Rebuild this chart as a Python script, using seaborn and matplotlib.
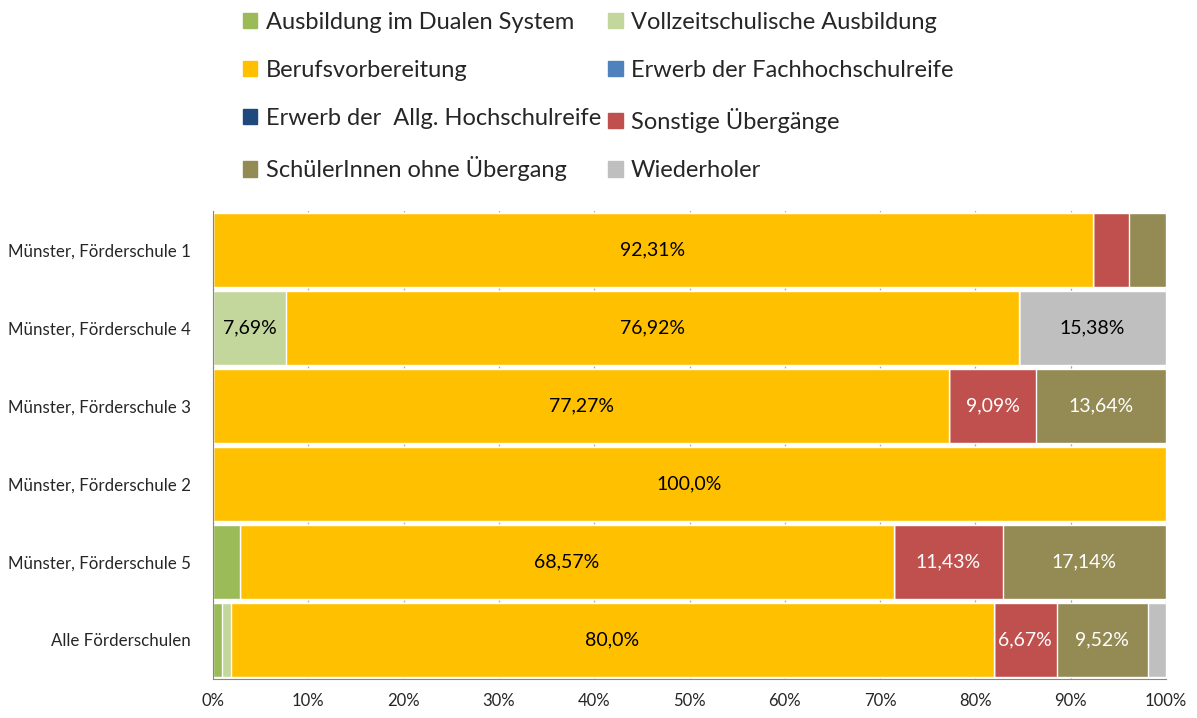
import numpy as np
import pandas as pd
import matplotlib
matplotlib.use("Agg")
import matplotlib.pyplot as plt
from matplotlib.patches import Patch
import seaborn as sns

sns.set_style("white")
plt.rcParams['font.family'] = ['Lato', 'DejaVu Sans']

schools = ["Münster, Förderschule 1", "Münster, Förderschule 4", "Münster, Förderschule 3",
           "Münster, Förderschule 2", "Münster, Förderschule 5", "Alle Förderschulen"]

series = ["Ausbildung im Dualen System", "Vollzeitschulische Ausbildung", "Berufsvorbereitung",
          "Erwerb der Fachhochschulreife", "Erwerb der  Allg. Hochschulreife", "Sonstige Übergänge",
          "SchülerInnen ohne Übergang", "Wiederholer"]

dual = [0, 0, 0, 0, 2.86, 0.95]
vollzeit = [0, 7.69, 0, 0, 0, 0.95]
beruf = [92.31, 76.92, 77.27, 100.0, 68.57, 80.0]
fachhoch = [0, 0, 0, 0, 0, 0]
allg = [0, 0, 0, 0, 0, 0]
sonstige = [3.85, 0, 9.09, 0, 11.43, 6.67]
ohne = [3.85, 0, 13.64, 0, 17.14, 9.52]
wiederholer = [0, 15.38, 0, 0, 0, 1.90]

colors = ["#9BBB59", "#C3D69B", "#FFC000", "#4F81BD", "#1F497D", "#C0504D", "#948A54", "#BFBFBF"]
label_colors = ["black", "black", "black", "white", "white", "white", "white", "black"]

df = pd.DataFrame(dict(zip(series, [dual, vollzeit, beruf, fachhoch, allg, sonstige, ohne, wiederholer])),
                  index=schools)
cum = df.cumsum(axis=1)

fig = plt.figure(figsize=(11.97, 7.18), dpi=100)
ax = fig.add_axes([213 / 1197, 1 - 679 / 718, 953 / 1197, 468 / 718])

# stacked bars: draw cumulative totals from the last series back to the first
for i in range(len(series) - 1, -1, -1):
    sns.barplot(x=cum[series[i]].values, y=schools, color=colors[i], orient="h",
                width=0.94, saturation=1, errorbar=None, ax=ax, zorder=2)


def fmt(v):
    s = f"{v:.2f}".rstrip("0")
    if s.endswith("."):
        s += "0"
    return s.replace(".", ",") + "%"


for i, name in enumerate(series):
    for j, school in enumerate(schools):
        v = df.loc[school, name]
        if v >= 5:
            ax.text(cum.loc[school, name] - v / 2, j, fmt(v), ha="center", va="center",
                    fontsize=14, color=label_colors[i], zorder=3)

ax.set_xlim(0, 100)
ax.set_ylim(5.5, -0.5)
ax.set_xticks(np.arange(0, 101, 10))
ax.set_xticklabels([f"{t}%" for t in range(0, 101, 10)])
ax.set_yticks(np.arange(-0.5, 6, 1), minor=True)
ax.tick_params(axis="y", which="major", length=0, labelsize=12.2, pad=16)
ax.tick_params(axis="y", which="minor", length=7, color="#868686", direction="out")
ax.tick_params(axis="x", length=6, color="#868686", direction="out", labelsize=12, pad=4)
ax.set_xlabel("")
ax.set_ylabel("")
ax.set_axisbelow(True)
ax.grid(axis="x", color="#A6A6A6", linewidth=0.9)
for s in ["top", "right"]:
    ax.spines[s].set_visible(False)
for s in ["left", "bottom"]:
    ax.spines[s].set_color("#868686")

handles = [Patch(color=c) for c in colors]
order = [0, 2, 4, 6, 1, 3, 5, 7]
fig.legend([handles[k] for k in order], [series[k] for k in order], ncol=2,
           loc="upper left", bbox_to_anchor=(238 / 1197, 1 - 7 / 718), frameon=False,
           fontsize=17, handlelength=0.62, handleheight=0.62, handletextpad=0.35,
           labelspacing=1.15, columnspacing=0.3, borderaxespad=0, borderpad=0.2)

fig.savefig("out.png", dpi=100)
